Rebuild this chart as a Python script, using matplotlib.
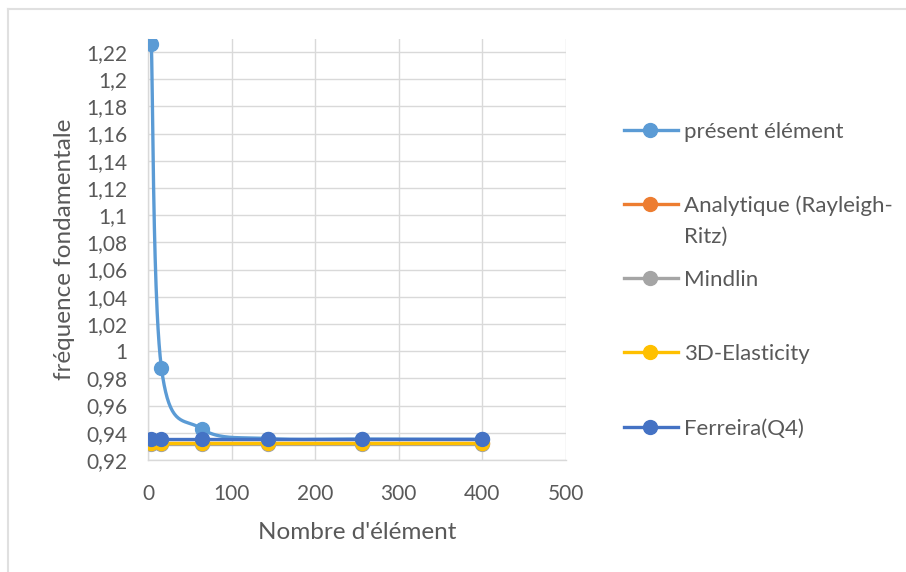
import numpy as np
import matplotlib
matplotlib.use("Agg")
import matplotlib.pyplot as plt
from matplotlib.lines import Line2D
from matplotlib.ticker import FuncFormatter, MultipleLocator

# data
n_elements = [4, 16, 64, 144, 256, 400]
present = [1.226, 0.988, 0.943, 0.9358, 0.9354, 0.9352]
analytique = [0.9324, 0.9324, 0.9324, 0.9324, 0.9324, 0.9324]
mindlin = [0.9316, 0.9316, 0.9316, 0.9316, 0.9316, 0.9316]
elasticity = [0.9322, 0.9322, 0.9322, 0.9322, 0.9322, 0.9322]
ferreira = [0.9352, 0.9352, 0.9352, 0.9352, 0.9352, 0.9352]

labels = ["présent élément", "Analytique (Rayleigh-\nRitz)", "Mindlin",
          "3D-Elasticity", "Ferreira(Q4)"]
colors = ["#5B9BD5", "#ED7D31", "#A5A5A5", "#FFC000", "#4472C4"]

TXT = "#595959"
GRID = "#D9D9D9"
plt.rcParams["font.family"] = ["Lato", "DejaVu Sans"]

XLIM = (0, 500)
YLIM = (0.92, 1.2295)


def smooth(xs, ys, n=40):
    """Excel-like smoothed line (Bezier through points), computed in screen-like space."""
    px = (np.asarray(xs, float) - XLIM[0]) / (XLIM[1] - XLIM[0]) * 418
    py = (np.asarray(ys, float) - YLIM[0]) / (YLIM[1] - YLIM[0]) * 421
    P = np.column_stack([px, py])
    out = []
    for i in range(len(P) - 1):
        p0 = P[i - 1] if i > 0 else P[i]
        p1, p2 = P[i], P[i + 1]
        p3 = P[i + 2] if i + 2 < len(P) else P[i + 1]
        c1 = p1 + (p2 - p0) / 6
        c2 = p2 - (p3 - p1) / 6
        t = np.linspace(0, 1, n)[:, None]
        seg = ((1 - t) ** 3) * p1 + 3 * ((1 - t) ** 2) * t * c1 + 3 * (1 - t) * t ** 2 * c2 + t ** 3 * p2
        out.append(seg if i == 0 else seg[1:])
    S = np.vstack(out)
    x = S[:, 0] / 418 * (XLIM[1] - XLIM[0]) + XLIM[0]
    y = S[:, 1] / 421 * (YLIM[1] - YLIM[0]) + YLIM[0]
    return x, y


def fmt(v, _):
    s = f"{v:.2f}".rstrip("0").rstrip(".")
    return s.replace(".", ",")


fig = plt.figure(figsize=(9.06, 5.72), dpi=100)
ax = fig.add_axes([148 / 906, 1 - 460 / 572, 418 / 906, 421 / 572])

series = [present, analytique, mindlin, elasticity, ferreira]
for ys, c in zip(series, colors):
    sx, sy = smooth(n_elements, ys)
    ax.plot(sx, sy, color=c, lw=2.4, solid_capstyle="round", zorder=3)
    ax.plot(n_elements, ys, "o", color=c, ms=10, zorder=4)

ax.set_xlim(*XLIM)
ax.set_ylim(*YLIM)
ax.xaxis.set_major_locator(MultipleLocator(100))
ax.set_yticks(np.arange(0.92, 1.2201, 0.02))
ax.yaxis.set_major_formatter(FuncFormatter(fmt))
ax.grid(True, color=GRID, lw=1.0, zorder=0)
ax.set_axisbelow(True)
for side in ("top", "right"):
    ax.spines[side].set_visible(False)
for side in ("left", "bottom"):
    ax.spines[side].set_color(GRID)
    ax.spines[side].set_linewidth(1.0)
ax.tick_params(length=0, labelsize=15, colors=TXT)
ax.tick_params(axis="y", pad=15)
ax.tick_params(axis="x", pad=17)
ax.set_xlabel("Nombre d'élément", fontsize=17.5, color=TXT, labelpad=13)
ax.set_ylabel("fréquence fondamentale", fontsize=17.5, color=TXT, labelpad=8)

# legend drawn by hand to keep Excel's wide spacing
leg_y = [130, 204, 278, 352, 427]
for y, c, lab in zip(leg_y, colors, labels):
    yf = 1 - y / 572
    fig.add_artist(Line2D([624 / 906, 678 / 906], [yf, yf], color=c, lw=2.4,
                          transform=fig.transFigure))
    fig.add_artist(Line2D([650 / 906], [yf], marker="o", color=c, ms=10,
                          transform=fig.transFigure))
    first, *rest = lab.split("\n")
    fig.text(684 / 906, yf, first, fontsize=16, color=TXT, va="center_baseline")
    for k, extra in enumerate(rest, 1):
        fig.text(684 / 906, yf - k * 31 / 572, extra, fontsize=16, color=TXT,
                 va="center_baseline")

# outer chart border (only left and top visible)
fig.add_artist(Line2D([8 / 906, 8 / 906], [0, 1 - 9 / 572], color="#E0E0E0", lw=1.5,
                      transform=fig.transFigure))
fig.add_artist(Line2D([8 / 906, 1], [1 - 9 / 572, 1 - 9 / 572], color="#E0E0E0", lw=1.5,
                      transform=fig.transFigure))

fig.savefig("out.png", dpi=100, facecolor="white")
